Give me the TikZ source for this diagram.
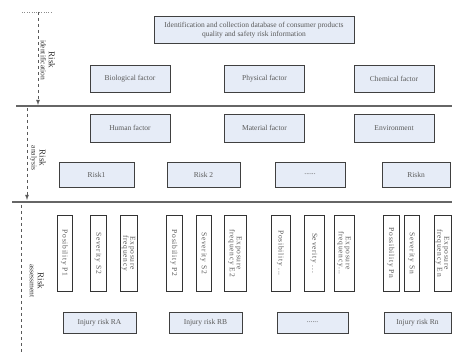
\documentclass[tikz,border=0pt]{standalone}
\usepackage{fontspec}
\setmainfont{Liberation Serif}
\definecolor{boxblue}{RGB}{230,236,247}
\newcommand{\bigrisk}{{\fontsize{9}{9}\selectfont Risk}}
\begin{document}
\begin{tikzpicture}[>=latex,x=1pt,y=-1pt,
  box/.style={draw=black!75,fill=boxblue,text=black!65,font=\fontsize{7.5}{8.5}\selectfont,align=center,inner sep=1pt},
  tall/.style={draw=black!80,fill=white,text=black!65,font=\fontsize{7.5}{7.2}\selectfont\addfontfeature{LetterSpace=10},align=center,rotate=-90,inner sep=0pt,minimum width=76pt},
  sep/.style={black!60,line width=1.3pt},
  phase/.style={dashed,black!65,line width=.8pt},
  lab/.style={rotate=-90,align=center,text=black!80,font=\fontsize{7.5}{8}\selectfont}]
\useasboundingbox (0,0) rectangle (452,352);
% risk identification
\draw[dotted,black!45] (22,12)--(53,12);
\draw[phase,->] (38,12)--(38,105);
\node[lab] (rid) at (48,60) {\bigrisk\\identification};
\node[box,minimum width=200pt,minimum height=27pt] (db) at (254,30)
  {Identification and collection database of consumer products\\quality and safety risk information};
\foreach \n/\x/\t in {bio/130/Biological factor,phy/264.5/Physical factor,che/394/Chemical factor}
{
    \node[box,minimum width=80pt,minimum height=27pt] (\n) at (\x,78.5) {\t};
}
\draw[sep] (16,106)--(452,106);
% risk analysis
\draw[phase,->] (27,108)--(27,200);
\node[lab] (ran) at (38,158) {\bigrisk\\analysis};
\foreach \n/\x/\t in {hum/130/Human factor,mat/264.5/Material factor,env/394/Environment}
{
    \node[box,minimum width=80pt,minimum height=28pt] (\n) at (\x,128) {\t};
}
\foreach \n/\x/\w/\t in {r1/96.5/75/{Risk1},r2/203.5/73/{Risk 2},rd/310/70/{......},rn/416/68/{Riskn}}
{
    \node[box,minimum width=\w pt,minimum height=25pt] (\n) at (\x,174.5) {\t};
}
\draw[sep] (12,202)--(452,202);
% risk assessment
\draw[phase] (21,205)--(21,352);
\node[lab] (ras) at (37,281) {\bigrisk\\assessment};
\foreach \n/\x/\w/\t in {p1/64.5/15/{Posibility P1},s1/98/16/{Severity S2},e1/128.5/17/{Exposure\\frequency},
  p2/174/16/{Posibility P2},s2/203.5/15/{Severity S2},e2/235/22/{Exposure\\frequency E2},
  pd/280.5/19/{Posibility ...},sd/314/20/{Severity ...},ed/344/20/{Exposure\\frequency...},
  pn/391/16/{Possibility Pn},sn/411.5/15/{Severity Sn},en/442.5/17/{Exposure\\frequency En}}
{
    \node[tall,minimum height=\w pt] (\n) at (\x,253) {\t};
}
\foreach \n/\x/\w/\t in {ia/99.5/73/{Injury risk RA},ib/205.5/73/{Injury risk RB},id/312.5/71/{......},in/417.5/67/{Injury risk Rn}}
{
    \node[box,minimum width=\w pt,minimum height=21pt] (\n) at (\x,322.5) {\t};
}
\end{tikzpicture}
\end{document}
